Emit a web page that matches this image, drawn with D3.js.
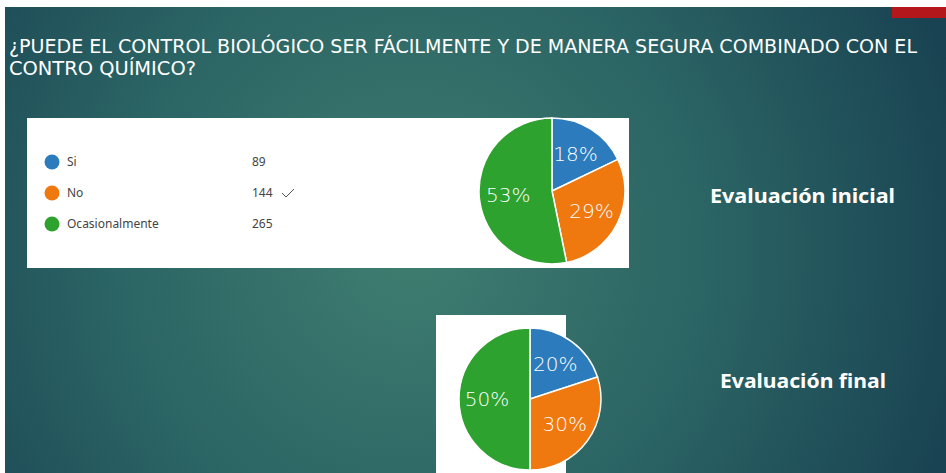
<!DOCTYPE html>
<html>
<head>
<meta charset="utf-8">
<script src="https://cdn.jsdelivr.net/npm/d3@7"></script>
<style>
  body { margin: 0; background: #fff; }
  svg { display: block; }
</style>
</head>
<body>
<script>
const titleLines = ['¿PUEDE EL CONTROL BIOLÓGICO SER FÁCILMENTE Y DE MANERA SEGURA COMBINADO CON EL', 'CONTRO QUÍMICO?']
const categories = ['Si', 'No', 'Ocasionalmente']
const colors = ['#2b7bbd', '#ef780f', '#2ea22e']
const initialCounts = [89, 144, 265]
const finalPercents = [20, 30, 50]
const checked = 'No'

const width = 946
const height = 473

const svg = d3.select('body').append('svg')
		.attr('width', width)
		.attr('height', height)

const defs = svg.append('defs')
const grad = defs.append('radialGradient')
		.attr('id', 'bg')
		.attr('gradientUnits', 'userSpaceOnUse')
		.attr('cx', 410).attr('cy', 250).attr('r', 600)
grad.append('stop').attr('offset', '0%').attr('stop-color', '#3f7d70')
grad.append('stop').attr('offset', '50%').attr('stop-color', '#2b6464')
grad.append('stop').attr('offset', '100%').attr('stop-color', '#173f50')

// slide background
svg.append('rect')
		.attr('x', 5).attr('y', 7)
		.attr('width', width - 5).attr('height', height - 7)
		.attr('fill', 'url(#bg)')

svg.append('rect')
		.attr('x', 892).attr('y', 7)
		.attr('width', 54).attr('height', 11)
		.attr('fill', '#b3161b')

svg.append('g').selectAll('text')
		.data(titleLines)
	.enter().append('text')
		.attr('x', 9)
		.attr('y', (d, i) => 53 + i * 22)
		.attr('fill', '#fff')
		.attr('font-family', 'Liberation Sans Narrow, DejaVu Sans Condensed, sans-serif')
		.attr('font-size', 19)
		.attr('textLength', (d, i) => i ? 187 : 908)
		.attr('lengthAdjust', 'spacingAndGlyphs')
		.text(d => d)

// panel 1: legend + pie
svg.append('rect')
		.attr('x', 27).attr('y', 118)
		.attr('width', 602).attr('height', 150)
		.attr('fill', '#fff')

const legend = svg.append('g')
		.attr('font-family', 'Noto Sans, Open Sans, sans-serif')
		.attr('font-size', 12)
		.attr('fill', '#444')

const row = legend.selectAll('.row')
		.data(categories)
	.enter().append('g')
		.attr('class', 'row')
		.attr('transform', (d, i) => `translate(0, ${162 + i * 31})`)

row.append('circle')
		.attr('cx', 52)
		.attr('r', 7.5)
		.attr('fill', (d, i) => colors[i])

row.append('text')
		.attr('x', 67)
		.attr('dy', '0.35em')
		.text(d => d)

row.append('text')
		.attr('x', 252)
		.attr('dy', '0.35em')
		.text((d, i) => initialCounts[i])

row.filter(d => d === checked).append('path')
		.attr('d', 'M282,0 l4,4 l8,-8')
		.attr('fill', 'none')
		.attr('stroke', '#555')
		.attr('stroke-width', 1)

// panel 2
svg.append('rect')
		.attr('x', 436).attr('y', 315)
		.attr('width', 130).attr('height', 158)
		.attr('fill', '#fff')

function drawPie(values, cx, cy, r, labelR) {
	const total = d3.sum(values)
	const arcs = d3.pie().sort(null)(values)
	const arc = d3.arc().innerRadius(0).outerRadius(r)
	const labelArc = d3.arc().innerRadius(labelR).outerRadius(labelR)
	const g = svg.append('g')
			.attr('transform', `translate(${cx}, ${cy})`)
	g.selectAll('path')
			.data(arcs)
		.enter().append('path')
			.attr('d', arc)
			.attr('fill', (d, i) => colors[i])
			.attr('stroke', '#fff')
			.attr('stroke-width', 1.5)
	g.selectAll('text')
			.data(arcs)
		.enter().append('text')
			.attr('transform', d => `translate(${labelArc.centroid(d)})`)
			.attr('text-anchor', 'middle')
			.attr('dy', '0.35em')
			.attr('fill', '#fff')
			.attr('font-family', 'DejaVu Sans, sans-serif')
			.attr('font-weight', 300)
			.attr('font-size', 20)
			.text(d => Math.round(d.value / total * 100) + '%')
}

drawPie(initialCounts, 552, 191, 73, 44)
drawPie(finalPercents, 530, 399, 71, 43)

svg.append('g').selectAll('text')
		.data([['Evaluación inicial', 710, 203, 185], ['Evaluación final', 720, 388, 166]])
	.enter().append('text')
		.attr('x', d => d[1])
		.attr('y', d => d[2])
		.attr('fill', '#fff')
		.attr('font-family', 'Noto Sans, Open Sans, sans-serif')
		.attr('font-weight', 'bold')
		.attr('font-size', 19)
		.attr('textLength', d => d[3])
		.attr('lengthAdjust', 'spacingAndGlyphs')
		.text(d => d[0])
</script>
</body>
</html>
